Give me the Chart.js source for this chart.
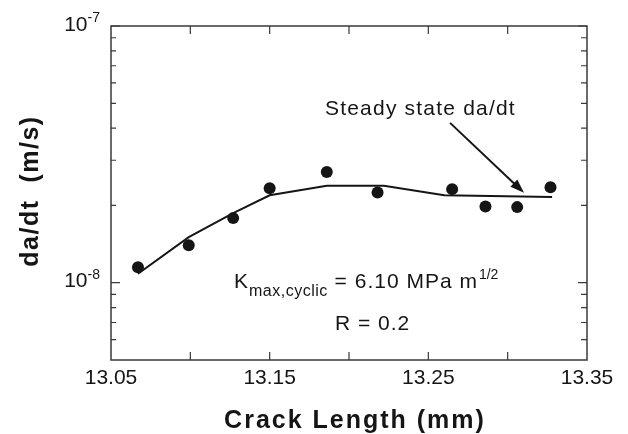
<!DOCTYPE html>
<html>
<head>
<meta charset="utf-8">
<script src="https://cdn.jsdelivr.net/npm/chart.js@4/dist/chart.umd.min.js"></script>
<style>
  html, body { margin: 0; padding: 0; background: #fff; }
  #wrap { width: 628px; height: 434px; }
</style>
</head>
<body>
<div id="wrap"><canvas id="myChart" width="628" height="434"></canvas></div>
<script>
// measured points (crack length in mm, da/dt in m/s)
const crackLength = [13.067, 13.099, 13.127, 13.150, 13.186, 13.218, 13.265, 13.286, 13.306, 13.327];
const dadt = [1.15e-8, 1.40e-8, 1.785e-8, 2.335e-8, 2.70e-8, 2.245e-8, 2.315e-8, 1.98e-8, 1.97e-8, 2.355e-8];

// hand-drawn trend line
const fitLength = [13.067, 13.099, 13.127, 13.150, 13.186, 13.222, 13.260, 13.328];
const fitDadt = [1.084e-8, 1.506e-8, 1.867e-8, 2.19e-8, 2.385e-8, 2.385e-8, 2.19e-8, 2.155e-8];

// axes
const xTickLabels = [13.05, 13.15, 13.25, 13.35];
const xTickMarks = [13.10, 13.15, 13.20, 13.25, 13.30];
const yDecades = [1e-8, 1e-7];
const yExponents = ['-8', '-7'];
const yMinorTicks = [6e-9, 7e-9, 8e-9, 9e-9, 2e-8, 3e-8, 4e-8, 5e-8, 6e-8, 7e-8, 8e-8, 9e-8];

const arrowFrom = { x: 13.2637, y: 4.195e-8 };
const arrowTo = { x: 13.3103, y: 2.24e-8 };

const ink = '#151515';
const font = '"Liberation Sans", Arial, Helvetica, sans-serif';

function txt(ctx, s, x, y, size, opts) {
  opts = opts || {};
  ctx.font = (opts.bold ? 'bold ' : '') + size + 'px ' + font;
  ctx.letterSpacing = (opts.ls || 0) + 'px';
  ctx.textAlign = opts.align || 'left';
  ctx.textBaseline = opts.base || 'alphabetic';
  ctx.fillText(s, x, y);
  const w = ctx.measureText(s).width;
  ctx.letterSpacing = '0px';
  return w;
}

const decorations = {
  id: 'decorations',
  afterDraw(chart) {
    const ctx = chart.ctx;
    const a = chart.chartArea;
    const xs = chart.scales.x, ys = chart.scales.y;
    ctx.save();
    ctx.fillStyle = ink;
    ctx.strokeStyle = '#3a3a3a';

    // frame
    ctx.lineWidth = 1.5;
    ctx.strokeRect(a.left, a.top, a.right - a.left, a.bottom - a.top);

    // inward ticks
    ctx.lineWidth = 1.2;
    ctx.beginPath();
    xTickMarks.forEach(v => {
      const px = xs.getPixelForValue(v);
      ctx.moveTo(px, a.bottom); ctx.lineTo(px, a.bottom - 8);
      ctx.moveTo(px, a.top); ctx.lineTo(px, a.top + 8);
    });
    yDecades.forEach(v => {
      const py = ys.getPixelForValue(v);
      ctx.moveTo(a.left, py); ctx.lineTo(a.left + 9, py);
      ctx.moveTo(a.right, py); ctx.lineTo(a.right - 9, py);
    });
    yMinorTicks.forEach(v => {
      const py = ys.getPixelForValue(v);
      ctx.moveTo(a.left, py); ctx.lineTo(a.left + 5, py);
      ctx.moveTo(a.right, py); ctx.lineTo(a.right - 6, py);
    });
    ctx.stroke();

    // y tick labels with superscript exponent
    yDecades.forEach((v, i) => {
      const py = ys.getPixelForValue(v);
      ctx.font = '14px ' + font;
      const we = ctx.measureText(yExponents[i]).width;
      const right = a.left - 11;
      txt(ctx, yExponents[i], right, py - 4, 14, { align: 'right' });
      txt(ctx, '10', right - we, py + 4.5, 21, { align: 'right' });
    });

    // axis titles
    txt(ctx, 'Crack Length (mm)', 355, 428, 25, { bold: true, ls: 2, align: 'center' });
    ctx.save();
    ctx.translate(31, 191);
    ctx.rotate(-Math.PI / 2);
    txt(ctx, 'da/dt  (m/s)', 0, 0, 25, { bold: true, ls: 1.5, align: 'center', base: 'middle' });
    ctx.restore();

    // annotations
    txt(ctx, 'Steady state da/dt', 325, 115, 21, { ls: 1.2 });
    let x = 234;
    x += txt(ctx, 'K', x, 288, 21, { ls: 1 });
    x += txt(ctx, 'max,cyclic', x, 296, 16, { ls: 0.5 });
    x += txt(ctx, ' = 6.10 MPa m', x, 288, 21, { ls: 1 });
    txt(ctx, '1/2', x + 1, 279, 14);
    txt(ctx, 'R = 0.2', 335, 330, 21, { ls: 1 });

    // arrow
    const x0 = xs.getPixelForValue(arrowFrom.x), y0 = ys.getPixelForValue(arrowFrom.y);
    const x1 = xs.getPixelForValue(arrowTo.x), y1 = ys.getPixelForValue(arrowTo.y);
    const ang = Math.atan2(y1 - y0, x1 - x0);
    ctx.strokeStyle = ink;
    ctx.lineWidth = 2;
    ctx.beginPath();
    ctx.moveTo(x0, y0);
    ctx.lineTo(x1 - 10 * Math.cos(ang), y1 - 10 * Math.sin(ang));
    ctx.stroke();
    ctx.beginPath();
    ctx.moveTo(x1, y1);
    ctx.lineTo(x1 - 14 * Math.cos(ang) + 5 * Math.sin(ang), y1 - 14 * Math.sin(ang) - 5 * Math.cos(ang));
    ctx.lineTo(x1 - 14 * Math.cos(ang) - 5 * Math.sin(ang), y1 - 14 * Math.sin(ang) + 5 * Math.cos(ang));
    ctx.closePath();
    ctx.fill();

    ctx.restore();
  }
};

const ctx = document.getElementById('myChart').getContext('2d');
new Chart(ctx, {
  type: 'scatter',
  data: {
    datasets: [
      {
        label: 'trend',
        data: fitLength.map((v, i) => ({ x: v, y: fitDadt[i] })),
        showLine: true,
        borderColor: ink,
        borderWidth: 2,
        pointRadius: 0,
        tension: 0
      },
      {
        label: 'da/dt',
        data: crackLength.map((v, i) => ({ x: v, y: dadt[i] })),
        pointRadius: 6,
        pointBackgroundColor: ink,
        pointBorderWidth: 0
      }
    ]
  },
  options: {
    responsive: false,
    animation: false,
    devicePixelRatio: 1,
    layout: { padding: { top: 26, right: 41, left: 0, bottom: 0 } },
    plugins: { legend: { display: false }, tooltip: { enabled: false } },
    scales: {
      x: {
        type: 'linear',
        min: 13.05,
        max: 13.35,
        grid: { display: false, drawTicks: false },
        border: { display: false },
        ticks: {
          color: ink,
          font: { family: font, size: 21 },
          padding: 6,
          maxRotation: 0,
          autoSkip: false,
          callback: v => v.toFixed(2)
        },
        afterBuildTicks: s => { s.ticks = xTickLabels.map(v => ({ value: v })); },
        afterFit: s => { s.height = 74; }
      },
      y: {
        type: 'logarithmic',
        min: 5e-9,
        max: 1e-7,
        grid: { display: false, drawTicks: false },
        border: { display: false },
        ticks: { display: false },
        afterFit: s => { s.width = 111; }
      }
    }
  },
  plugins: [decorations]
});
</script>
</body>
</html>
